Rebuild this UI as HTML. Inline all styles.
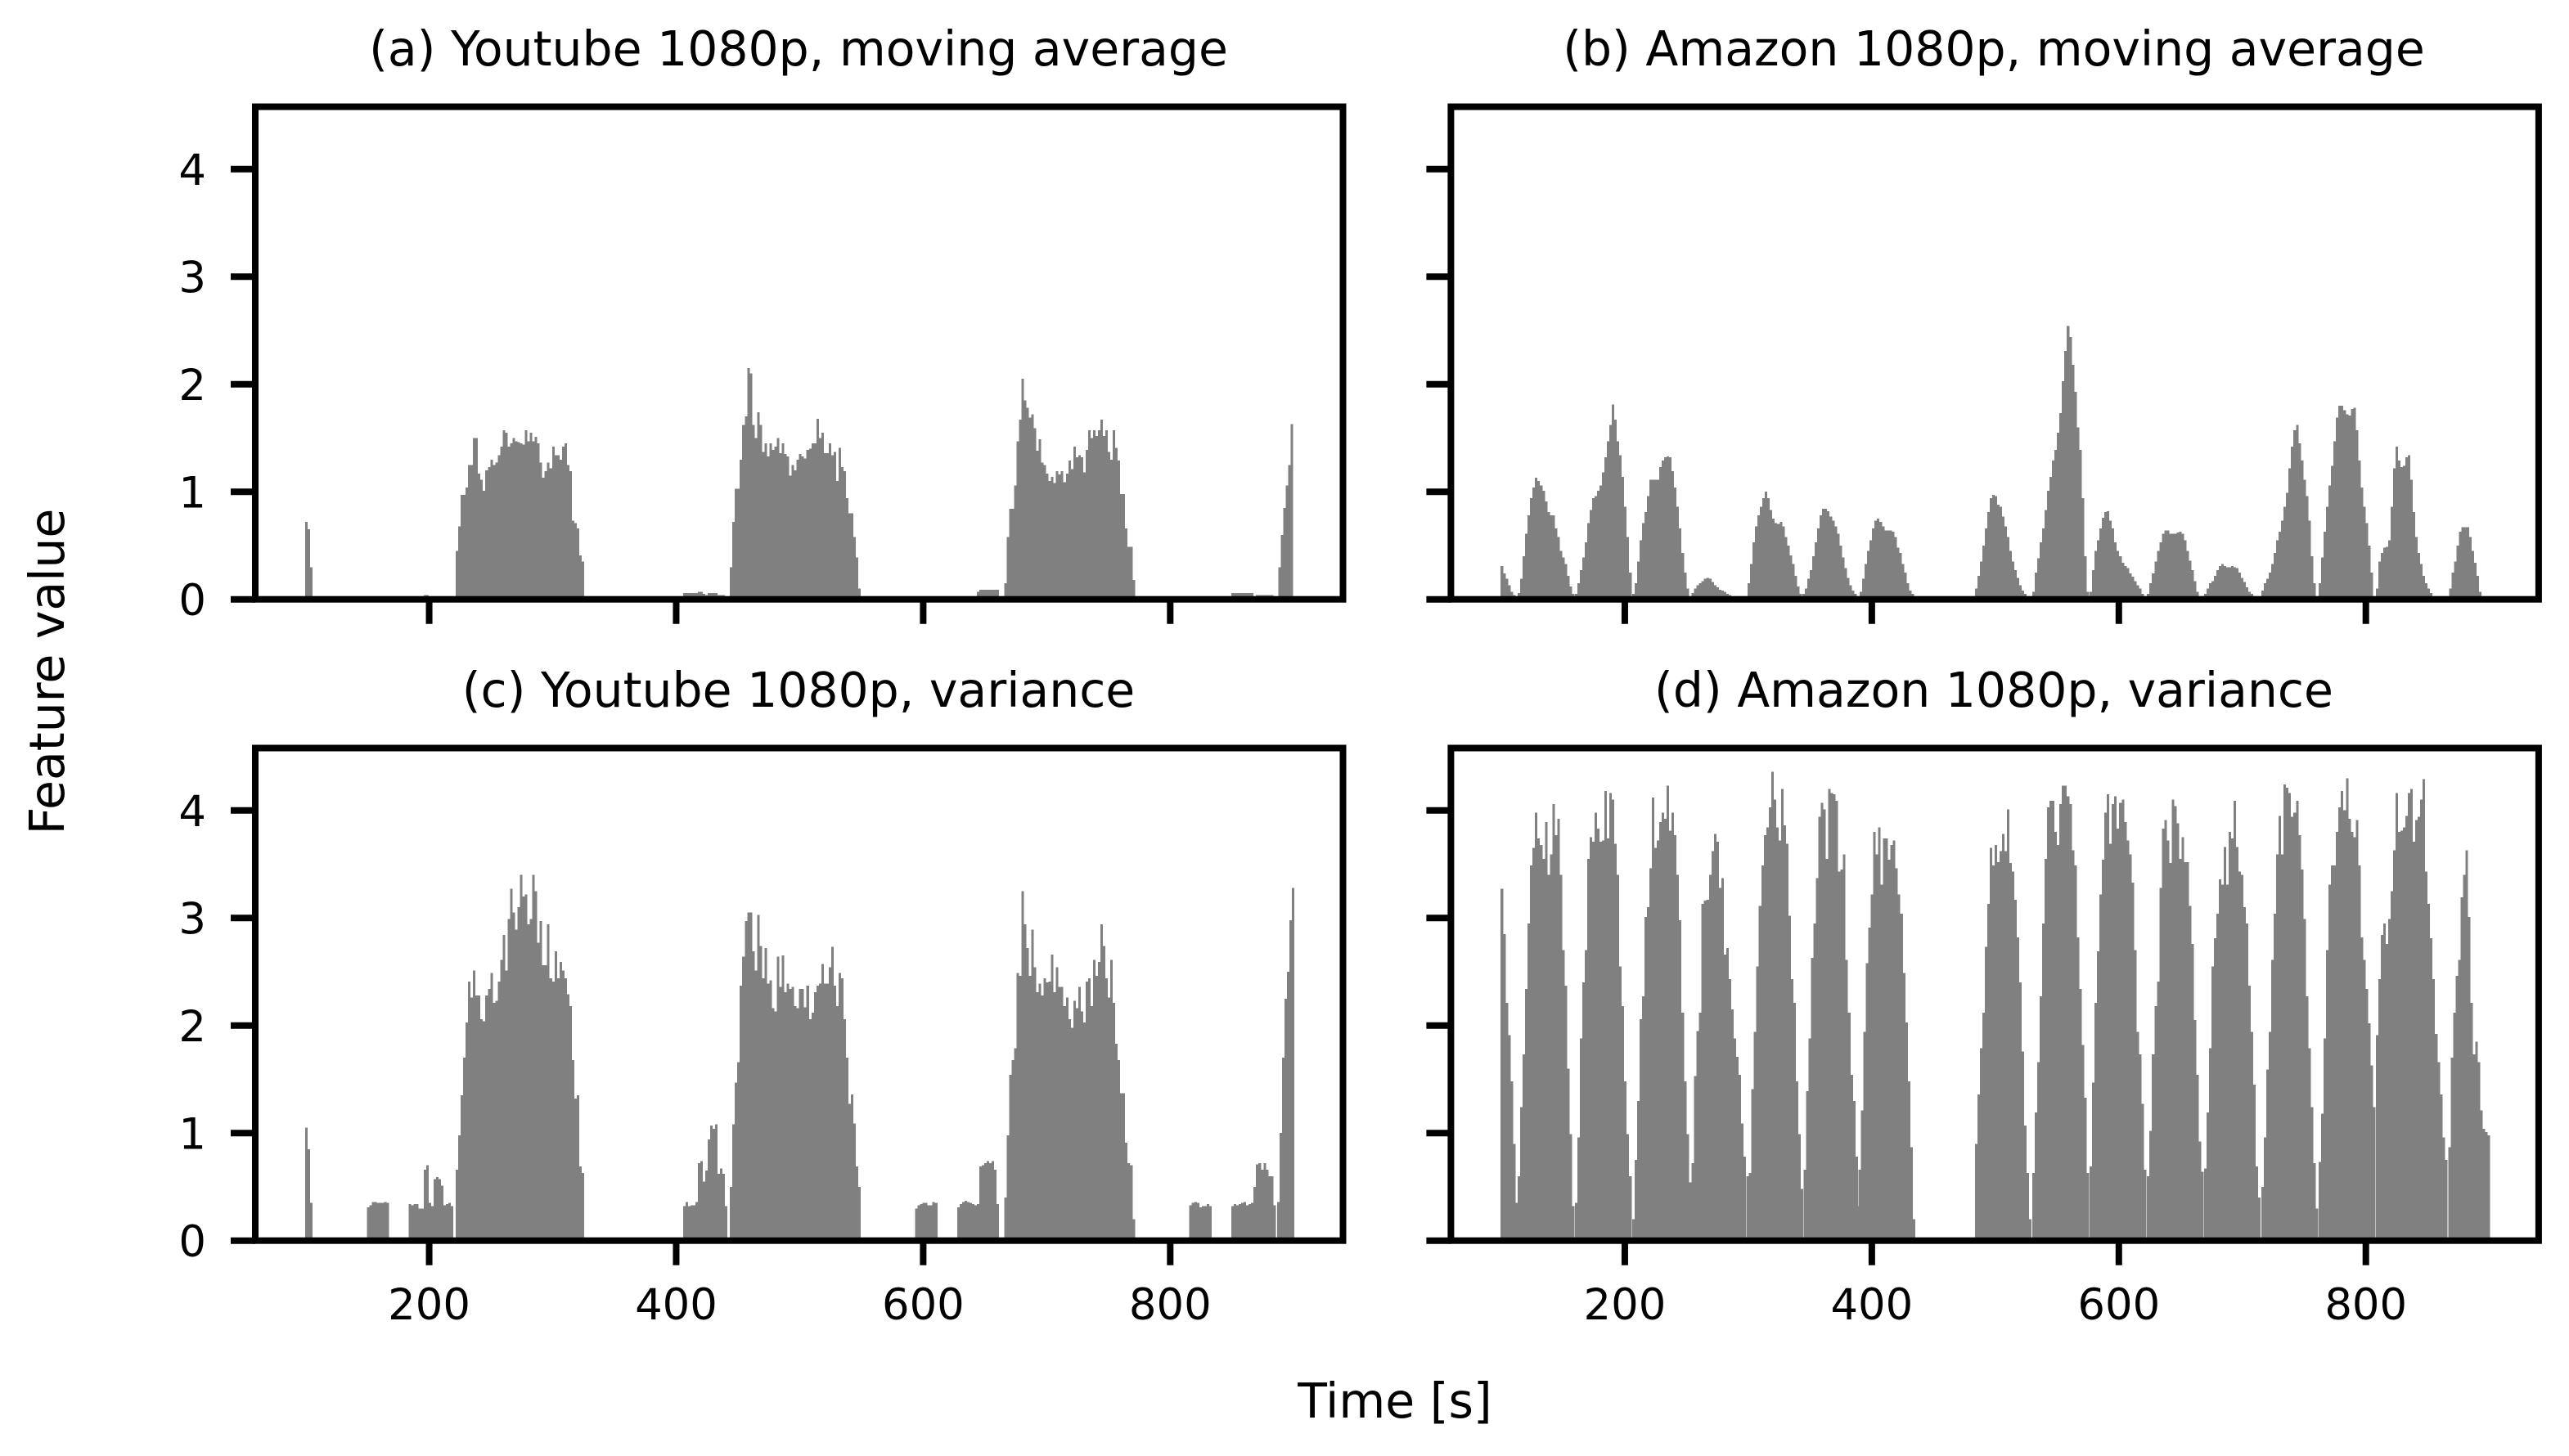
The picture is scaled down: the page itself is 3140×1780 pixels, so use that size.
<!DOCTYPE html>
<html lang="en">
<head>
<meta charset="utf-8">
<title>Youtube and Amazon 1080p feature values</title>
<style>
html,body{margin:0;padding:0;background:#fff;}
svg{display:block;}
text{font-family:"DejaVu Sans","Liberation Sans",sans-serif;fill:#000;}
.title,.axis-label{font-size:58.4px;text-anchor:middle;}
.tick-text{font-size:52.8px;}
</style>
</head>
<body>
<svg id="chart" xmlns="http://www.w3.org/2000/svg" width="3140" height="1780" viewBox="0 0 3140 1780">
  <rect x="0" y="0" width="3140" height="1780" fill="#fff"/>
  <g id="marks"></g>
  <g id="frames"></g>
  <text class="title" x="976" y="80">(a) Youtube 1080p, moving average</text>
  <text class="title" x="2437" y="80">(b) Amazon 1080p, moving average</text>
  <text class="title" x="976" y="864">(c) Youtube 1080p, variance</text>
  <text class="title" x="2437" y="864">(d) Amazon 1080p, variance</text>
  <text class="axis-label" x="1705" y="1733">Time [s]</text>
  <text class="axis-label" x="0" y="0" transform="translate(78 821) rotate(-90)">Feature value</text>
</svg>
<script>
const binWidth = 2;
const xTickLabels = [200, 400, 600, 800];
const yTickLabels = [0, 1, 2, 3, 4];

const runStartsA = [99.5,195.5,221.5,405.5,443.5,643.5,665.5,849.5,869.5,887.5];
const runValuesA = [
[.72,.65,.3],
[.04,.04],
[.45,.68,.97,.97,1.04,1.25,1.25,1.5,1.5,1.17,1.11,1.01,1.2,1.23,1.3,1.25,1.27,1.34,1.42,1.57,1.55,1.42,1.45,1.5,1.47,1.46,1.45,1.44,1.57,1.47,1.55,1.47,1.51,1.45,1.27,1.13,1.19,1.27,1.22,1.42,1.34,1.34,1.3,1.42,1.45,1.25,1.19,.73,.71,.66,.41,.35],
[.06,.06,.06,.06,.06,.06,.07,.07,.05,.04,.06,.06,.06,.06,.04,.04,.04],
[.3,.72,1.03,1.03,1.3,1.62,1.7,2.15,2.1,1.62,1.5,1.74,1.62,1.37,1.45,1.33,1.45,1.39,1.42,1.5,1.36,1.45,1.35,1.33,1.15,1.25,1.2,1.3,1.35,1.33,1.31,1.39,1.4,1.45,1.45,1.68,1.5,1.55,1.36,1.36,1.45,1.34,1.37,1.1,1.41,1.23,1.19,.94,.8,.8,.58,.39,.1],
[.07,.09,.09,.09,.09,.09,.09,.09,.09],
[.15,.58,.84,.84,1.06,1.47,1.67,2.05,1.85,1.78,1.69,1.72,1.59,1.38,1.49,1.27,1.25,1.17,1.1,1.14,1.08,1.19,1.16,1.19,1.09,1.17,1.29,1.21,1.42,1.32,1.34,1.32,1.18,1.39,1.57,1.5,1.57,1.52,1.57,1.67,1.52,1.57,1.37,1.3,1.57,1.41,1.29,.98,.98,.66,.49,.49,.18],
[.06,.06,.06,.06,.06,.06,.06,.06,.06],
[.04,.04,.04,.04,.04,.04,.04],
[.3,.6,.85,1.06,1.25,1.63]
];

const runStartsB = [99.5,113.3,159.5,205.9,254.1,299.4,343.8,390.2,483.4,529.9,576.3,622.8,668.9,715.4,761.8,808,867.5];
const runValuesB = [
[.31,.24,.19,.13,.07,.04],
[.06,.19,.4,.61,.78,.94,1.04,1.13,1.1,1.06,1.01,.91,.81,.78,.78,.66,.58,.45,.39,.33,.22,.12,.05],
[.05,.15,.27,.39,.53,.71,.83,.94,.96,1.01,1.06,1.18,1.32,1.47,1.62,1.81,1.67,1.47,1.34,1.14,.86,.58,.25],
[.05,.15,.35,.55,.71,.81,.96,1.11,1.11,1.11,1.11,1.23,1.29,1.32,1.33,1.32,1.19,1.04,.86,.66,.43,.25,.1,.03],
[.06,.1,.13,.15,.17,.19,.2,.19,.16,.13,.11,.09,.08,.07,.05,.04,.03],
[.15,.33,.53,.68,.78,.86,.94,1,.94,.83,.75,.71,.7,.72,.68,.58,.5,.41,.33,.22,.12,.05],
[.05,.1,.19,.27,.4,.53,.66,.78,.84,.84,.82,.77,.73,.68,.61,.5,.39,.29,.2,.13,.08,.05],
[.07,.19,.33,.45,.55,.66,.73,.75,.72,.68,.64,.64,.64,.63,.58,.48,.43,.33,.25,.15,.08,.05],
[.1,.22,.35,.5,.66,.81,.94,.97,.96,.88,.86,.77,.68,.58,.45,.35,.27,.2,.13,.08,.05],
[.07,.25,.38,.53,.66,.83,1.01,1.14,1.29,1.39,1.55,1.73,2.03,2.31,2.54,2.44,2.18,1.93,1.6,1.39,.94,.4,.07],
[.07,.27,.45,.55,.66,.76,.81,.82,.73,.66,.53,.45,.4,.34,.31,.29,.24,.21,.17,.13,.1,.05,.01],
[.05,.15,.24,.35,.45,.53,.61,.64,.64,.61,.61,.61,.62,.63,.61,.55,.45,.36,.27,.17,.07,.03,.01],
[.05,.1,.15,.17,.22,.27,.31,.33,.31,.3,.3,.31,.3,.29,.25,.2,.16,.11,.07,.05,.02],
[.08,.15,.19,.25,.33,.43,.55,.63,.73,.86,.99,1.22,1.42,1.57,1.62,1.45,1.29,1.11,.96,.73,.4,.15],
[.15,.39,.63,.86,1.06,1.24,1.47,1.69,1.8,1.8,1.76,1.72,1.71,1.77,1.78,1.57,1.29,1.04,.86,.71,.5,.25],
[.1,.35,.43,.48,.49,.55,.86,1.22,1.42,1.29,1.23,1.24,1.32,1.34,1.11,.81,.58,.43,.33,.22,.15,.1,.06,.03,.02],
[.1,.25,.35,.5,.63,.67,.67,.67,.58,.45,.34,.22,.07]
];

const runStartsC = [99.5,149.5,183.5,221.5,405.5,443.5,593.5,627.5,665.5,815.5,849.5,886.5];
const runValuesC = [
[1.05,.85,.35],
[.31,.33,.36,.36,.35,.35,.35,.36,.35],
[.34,.33,.34,.34,.3,.3,.66,.7,.35,.32,.57,.59,.57,.51,.33,.34,.35,.32],
[.66,.98,1.35,1.7,2.03,2.41,2.26,2.51,2.28,2.28,2.06,2.04,2.28,2.34,2.49,2.21,2.23,2.41,2.61,2.84,2.51,2.99,3.27,3.05,2.89,3.1,3.4,3.2,3.22,2.94,2.99,3.4,3.25,2.77,2.97,2.56,2.56,2.94,2.44,2.41,2.69,2.44,2.59,2.51,2.44,2.29,2.18,1.68,1.32,1.35,.69,.63],
[.32,.36,.32,.33,.33,.36,.72,.74,.55,.65,.94,1.07,1.04,1.08,.62,.67,.62,.32],
[.5,1.08,1.47,1.66,2.37,2.64,2.97,3.05,3.05,2.69,2.51,3.03,2.74,2.44,2.72,2.39,2.42,2.16,2.13,2.64,2.36,2.65,2.31,2.39,2.34,2.36,2.18,2.16,2.34,2.34,2.17,2.37,2.06,2.12,2.31,2.37,2.39,2.57,2.39,2.39,2.54,2.73,2.37,2.18,2.49,2.44,2.06,1.7,1.27,1.36,1.09,.69,.5],
[.3,.33,.34,.35,.35,.33,.33,.36,.35],
[.31,.34,.36,.37,.36,.35,.34,.33,.34,.69,.7,.72,.74,.72,.74,.66,.34],
[.4,.98,1.54,1.68,1.79,2.49,2.46,3.25,2.94,2.72,2.46,2.89,2.54,2.31,2.39,2.28,2.44,2.4,2.41,2.66,2.31,2.54,2.36,2.36,2.18,2.26,2.06,1.98,2.23,2.16,2.36,2.13,2.03,2.41,2.44,2.18,2.61,2.46,2.59,2.94,2.74,2.44,2.26,2.61,2.21,1.83,1.68,1.37,1.37,.91,.72,.7,.2],
[.33,.35,.36,.35,.31,.32,.32,.34,.32],
[.32,.34,.33,.34,.35,.36,.33,.34,.35,.5,.71,.72,.66,.72,.66,.6,.6,.33],
[.36,1,1.7,2.25,2.5,2.98,3.28]
];

const runStartsD = [99.5,113.3,159.5,205.9,254.1,298.5,344.7,389.1,483.4,529.9,576.3,622.8,668.9,715.4,761.8,808,866.6];
const runValuesD = [
[3.27,2.85,2.21,1.91,1.48,.9,.35],
[.6,1.24,1.73,2.34,2.95,3.49,3.65,3.98,3.74,3.68,3.55,3.89,3.4,3.59,4.06,3.77,3.92,3.4,2.7,2.37,1.6,.99,.32],
[.35,.96,1.88,2.4,2.7,3.55,3.75,3.71,3.98,3.83,3.71,3.72,4.18,3.74,4.16,4.1,3.69,3.4,2.55,2.18,1.48,.99,.6],
[.2,.75,1.3,2.06,2.27,3.01,3.1,3.46,4.12,3.65,3.72,3.89,3.98,3.92,4.23,3.81,3.98,3.77,3.4,2.98,2.12,1.48,.99,.54],
[.72,1.53,1.95,2.12,3.13,3.16,3.17,3.4,3.62,3.78,3.71,3.28,3.37,2.66,2.72,2.43,2.15,1.88,1.71,1.54,1.09,.78],
[.6,.63,1.41,1.94,2.55,3.11,3.49,3.77,3.84,4.03,4.36,4.1,3.84,3.72,4.2,3.86,3.69,3.02,2.43,2.21,1.48,.99,.48],
[.66,1.39,1.88,2.63,2.95,3.37,3.94,4.07,4.01,3.55,4.2,4.16,4.15,4.09,3.43,3.45,3.59,2.61,2.12,1.54,1.3,.78,.32],
[.66,1.21,1.94,2.58,2.91,3.22,3.8,3.59,3.84,3.31,3.74,3.74,3.54,3.68,3.72,3.46,3.22,3.04,2.49,2.03,1.48,.87,.2],
[.9,1.36,1.79,2.12,2.73,3.13,3.65,3.49,3.68,3.52,3.62,3.78,3.62,4.01,3.51,3.43,3.17,2.82,2.4,1.76,1.07,.63,.2],
[.63,1.19,1.66,2.27,2.95,3.55,4.03,4.09,4.09,3.8,3.68,4.06,4.23,4.23,4.13,4.06,3.63,3.49,2.82,2.34,1.82,1.33,.63],
[.69,1.47,2.21,2.69,3.22,3.54,3.98,4.15,3.69,4.06,4.13,3.83,4.07,4.1,3.89,3.72,3.59,3.33,2.7,1.94,1.73,1.27,.66],
[.6,1.02,1.73,2.18,2.41,3.28,3.83,3.91,3.72,3.51,4.1,4.04,3.88,3.55,3.75,3.52,3.52,3.11,2.76,2.05,1.54,.92,.64],
[.67,1.19,1.79,2.55,2.81,3.04,3.36,3.31,3.66,3.31,3.8,3.74,4.09,3.66,3.43,3.4,3.1,2.95,2.37,1.94,1.45,.69,.4],
[.5,.96,1.59,1.94,2.61,3.04,3.59,3.95,3.59,4.24,4.21,4.16,3.94,3.98,4.09,3.77,3.45,2.99,2.27,1.79,1.24,.72,.3],
[.73,1.18,1.88,2.7,3.31,3.49,3.49,3.8,4.03,4.18,4,4.3,3.92,3.8,3.75,3.91,3.49,2.82,2.61,2.34,2.02,1.63,1.24],
[1.91,2.43,2.84,2.95,2.76,2.99,3.25,3.63,4.16,3.8,3.81,3.84,3.95,4.16,4.2,3.71,3.91,3.94,4.1,4.29,3.43,3.13,2.81,2.43,1.92,1.66,1.36,.96,.75],
[.87,1.7,2.12,2.46,2.61,3.19,3.4,3.63,3.01,2.21,1.73,1.85,1.66,1.21,1.04,1.01,.98]
];

const NS = 'http://www.w3.org/2000/svg';
const PANEL_W = 1329.5, PANEL_H = 602.2, UNIT_PX = 131.5, SEC_PX = 1.5096, X_MIN = 59.2;
const LINE = 8, TICK = 26;
const panels = [
  {id: 'a', left: 312, bottom: 732.7, starts: runStartsA, values: runValuesA, xLabels: false, yLabels: true},
  {id: 'b', left: 1773.4, bottom: 732.7, starts: runStartsB, values: runValuesB, xLabels: false, yLabels: false},
  {id: 'c', left: 312, bottom: 1516.7, starts: runStartsC, values: runValuesC, xLabels: true, yLabels: true},
  {id: 'd', left: 1773.4, bottom: 1516.7, starts: runStartsD, values: runValuesD, xLabels: true, yLabels: false}
];
function xScale(p, s) { return p.left + (s - X_MIN) * SEC_PX; }
function yScale(p, v) { return p.bottom - v * UNIT_PX; }
function make(tag, attrs, parent) {
  const el = document.createElementNS(NS, tag);
  for (const k in attrs) el.setAttribute(k, attrs[k]);
  parent.appendChild(el);
  return el;
}
const marks = document.getElementById('marks');
const frames = document.getElementById('frames');
panels.forEach(function (p) {
  p.starts.forEach(function (start, r) {
    p.values[r].forEach(function (v, i) {
      const t = start + i * binWidth;
      const x0 = xScale(p, t), x1 = xScale(p, t + binWidth), y0 = yScale(p, v);
      const bar = make('rect', {x: x0, y: y0, width: x1 - x0, height: p.bottom - y0, fill: '#808080', 'shape-rendering': 'crispEdges'}, marks);
      
      
    });
  });
  const frame = make('rect', {x: p.left, y: p.bottom - PANEL_H, width: PANEL_W, height: PANEL_H, fill: 'none', stroke: '#000', 'stroke-width': LINE}, frames);
  
  
  xTickLabels.forEach(function (label) {
    const x = xScale(p, label);
    const tick = make('line', {x1: x, x2: x, y1: p.bottom, y2: p.bottom + LINE / 2 + TICK, stroke: '#000', 'stroke-width': LINE}, frames);
    
    
    if (p.xLabels) {
      const text = make('text', {x: x, y: p.bottom + 96.5, class: 'tick-text', 'text-anchor': 'middle'}, frames);
      text.textContent = label;
      
      
    }
  });
  yTickLabels.forEach(function (label) {
    const y = yScale(p, label);
    const tick = make('line', {x1: p.left, x2: p.left - LINE / 2 - TICK, y1: y, y2: y, stroke: '#000', 'stroke-width': LINE}, frames);
    
    
    if (p.yLabels) {
      const text = make('text', {x: p.left - 60, y: y + 19.5, class: 'tick-text', 'text-anchor': 'end'}, frames);
      text.textContent = label;
      
      
    }
  });
});
</script>
</body>
</html>
